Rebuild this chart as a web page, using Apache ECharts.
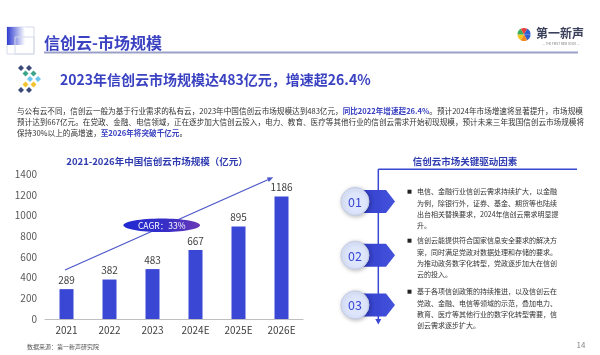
<!DOCTYPE html>
<html>
<head>
<meta charset="utf-8">
<script src="https://cdn.jsdelivr.net/npm/echarts@6/dist/echarts.min.js"></script>
<style>
html,body{margin:0;padding:0;background:#fff;}
#main{width:600px;height:355px;}
</style>
</head>
<body>
<div id="main"></div>
<script>
// ---- data ----
const categories = ['2021', '2022', '2023', '2024E', '2025E', '2026E'];
const marketSize = [289, 382, 483, 667, 895, 1186];
const yTicks = [0, 200, 400, 600, 800, 1000, 1200, 1400];
const pageTitle = '信创云-市场规模';
const headline = '2023年信创云市场规模达483亿元，增速超26.4%';
const paragraphLines = [
  '与公有云不同，信创云一般为基于行业需求的私有云，2023年中国信创云市场规模达到483亿元，{b|同比2022年增速超26.4%}。预计2024年市场增速将显著提升，市场规模',
  '预计达到667亿元。在党政、金融、电信领域，正在逐步加大信创云投入，电力、教育、医疗等其他行业的信创云需求开始初现规模，预计未来三年我国信创云市场规模将',
  '保持30%以上的高增速，{b|至2026年将突破千亿元}。'
];
const chartTitle = '2021-2026年中国信创云市场规模（亿元）';
const cagrText = 'CAGR：33%';
const driverTitle = '信创云市场关键驱动因素';
const driverNums = ['01', '02', '03'];
const driverTexts = [
  ['电信、金融行业信创云需求持续扩大，以金融', '为例，除银行外，证券、基金、期货等也陆续', '出台相关替换要求，2024年信创云需求明显提', '升。'],
  ['信创云能提供符合国家信息安全要求的解决方', '案，同时满足党政对数据处理和存储的要求。', '为推动政务数字化转型，党政逐步加大在信创', '云的投入。'],
  ['基于各项信创政策的持续推进，以及信创云在', '党政、金融、电信等领域的示范，叠加电力、', '教育、医疗等其他行业的数字化转型需要，信', '创云需求逐步扩大。']
];
const sourceText = '数据来源：第一新声研究院';
const pageNum = '14';

// ---- rendering ----
const FONT = '"Noto Sans CJK SC", "Noto Sans", sans-serif';
const BLUE = '#3a47d5';
const chart = echarts.init(document.getElementById('main'), null, {renderer: 'canvas'});

const g = [];
function txt(x, y, text, size, color, opts) {
  g.push(Object.assign({
    type: 'text', z: 10,
    style: Object.assign({
      x: x, y: y, text: text, fill: color,
      fontSize: size, fontFamily: FONT,
      textAlign: 'left', textVerticalAlign: 'middle'
    }, opts || {})
  }));
}

// header icon
g.push({type: 'rect', shape: {x: 7, y: 27, width: 27, height: 27}, style: {fill: 'none', stroke: '#d6d9ea', lineWidth: 1}});
g.push({type: 'rect', shape: {x: 7, y: 27, width: 18, height: 18},
  style: {fill: new echarts.graphic.LinearGradient(0, 0, 1, 0, [{offset: 0, color: '#2e3ccf'}, {offset: 1, color: '#ffffff'}])}});
g.push({type: 'rect', shape: {x: 15, y: 37, width: 19, height: 17}, style: {fill: 'none', stroke: '#d6d9ea', lineWidth: 1}});
txt(44, 43, pageTitle, 16, '#3a42c2', {fontWeight: 'bold'});
g.push({type: 'line', shape: {x1: 44, y1: 52.5, x2: 578, y2: 52.5}, style: {stroke: '#9ba0c8', lineWidth: 2}});

// logo
const logoCols = ['#2d5fd0', '#f08a24', '#f5c518', '#3fae5a', '#e8413a', '#2d5fd0'];
logoCols.forEach(function (c, i) {
  g.push({type: 'sector', shape: {cx: 524, cy: 34.5, r: 6.5, startAngle: Math.PI * 2 * i / 6, endAngle: Math.PI * 2 * (i + 1) / 6}, style: {fill: c}});
});
txt(536, 33.5, '第一新声', 12, '#3a3f5a', {fontWeight: 'bold'});
txt(561, 44, '— THE FIRST NEW VOICE —', 3, '#777', {textAlign: 'center'});

// headline icon (two chevrons of diamonds)
const dia = [[21, 68, '#3b4a7a'], [29, 68, '#3b4a7a'], [25.5, 73.5, '#3aa58a'], [33.5, 73.5, '#3aa58a'],
  [30, 79, '#6cc6ee'], [38, 79, '#6cc6ee'], [25.5, 84.5, '#f3c230'], [33.5, 84.5, '#f3c230'],
  [21, 90, '#3b4a7a'], [29, 90, '#3b4a7a']];
dia.forEach(function (d) {
  g.push({type: 'polygon', shape: {points: [[d[0], d[1] - 3], [d[0] + 3, d[1]], [d[0], d[1] + 3], [d[0] - 3, d[1]]]}, style: {fill: d[2]}});
});
txt(60, 80, headline, 14, '#3a42c2', {fontWeight: 'bold'});

// paragraph
paragraphLines.forEach(function (line, i) {
  txt(17, 111 + i * 11, line, 7.6, '#333', {rich: {b: {fill: '#3a42c2', fontWeight: 'bold', fontSize: 7.6, fontFamily: FONT}}});
});

// chart title
txt(157, 161, chartTitle, 9.5, '#2f3bb0', {fontWeight: 'bold', textAlign: 'center'});

// growth arrow
(function () {
  const x1 = 65, y1 = 270, x2 = 273.3, y2 = 177.3;
  const dx = x2 - x1, dy = y2 - y1, L = Math.sqrt(dx * dx + dy * dy);
  const ux = dx / L, uy = dy / L, px = -uy, py = ux;
  const bx = x2 - 6 * ux, by = y2 - 6 * uy;
  g.push({type: 'line', z: 5, shape: {x1: x1, y1: y1, x2: bx, y2: by}, style: {stroke: '#4b55c9', lineWidth: 1.2}});
  g.push({type: 'polygon', z: 5, shape: {points: [[x2, y2], [bx + 2.4 * px, by + 2.4 * py], [bx - 2.4 * px, by - 2.4 * py]]}, style: {fill: '#4b55c9'}});
})();
g.push({type: 'ellipse', z: 6, shape: {cx: 161.7, cy: 225.3, rx: 38.3, ry: 6.8},
  style: {fill: new echarts.graphic.LinearGradient(0, 0, 1, 0, [{offset: 0, color: '#1f2ad2'}, {offset: 0.6, color: '#3a2fc6'}, {offset: 1, color: '#6c38b6'}])}});
txt(161.7, 225.5, cagrText, 8.5, '#ffffff', {textAlign: 'center'});

// right panel
txt(465, 161, driverTitle, 9.5, '#2f3bb0', {fontWeight: 'bold', textAlign: 'center'});
const circleY = [201.5, 255.3, 305];
const textY = [191.7, 240.7, 291.7];
circleY.forEach(function (cy, i) {
  g.push({type: 'polygon', z: 3, shape: {points: [[355, cy - 11.5], [386, cy - 11.5], [395, cy], [386, cy + 11.5], [355, cy + 11.5]]},
    style: {fill: new echarts.graphic.LinearGradient(0, 0, 1, 0, [{offset: 0, color: '#2f3cc9'}, {offset: 1, color: '#4552dc'}])}});
  g.push({type: 'circle', z: 6, shape: {cx: 355, cy: cy, r: 14},
    style: {fill: '#dde6fc', stroke: '#c3cbe6', lineWidth: 1, shadowBlur: 4, shadowColor: 'rgba(0,0,0,0.25)', shadowOffsetX: 1, shadowOffsetY: 1}});
  txt(355, cy + 0.5, driverNums[i], 12.5, BLUE, {textAlign: 'center'});
  g.push({type: 'rect', shape: {x: 407.5, y: textY[i] - 2, width: 4, height: 4}, style: {fill: '#222'}});
  driverTexts[i].forEach(function (t, j) {
    txt(417, textY[i] + j * 11.2, t, 7, '#333');
  });
});
g.push({type: 'line', z: 4, shape: {x1: 378.3, y1: 169.3, x2: 577, y2: 169.3}, style: {stroke: BLUE, lineWidth: 1.5}});
g.push({type: 'line', z: 4, shape: {x1: 378.3, y1: 169.3, x2: 378.3, y2: 320}, style: {stroke: BLUE, lineWidth: 1.5}});
g.push({type: 'polygon', z: 4, shape: {points: [[375.3, 319], [381.3, 319], [378.3, 324.5]]}, style: {fill: BLUE}});

// footer
txt(27, 347, sourceText, 6, '#555');
txt(581, 345, pageNum, 8, '#888', {textAlign: 'center'});

chart.setOption({
  animation: false,
  grid: {left: 45, right: 297, top: 174.3, bottom: 36, containLabel: false},
  xAxis: {
    type: 'category', data: categories,
    axisLine: {lineStyle: {color: '#bfbfbf', width: 1}},
    axisTick: {show: false},
    axisLabel: {color: '#404040', fontSize: 10, fontFamily: FONT, margin: 6}
  },
  yAxis: {
    type: 'value', min: yTicks[0], max: yTicks[yTicks.length - 1], interval: yTicks[1] - yTicks[0],
    axisLine: {show: false}, axisTick: {show: false}, splitLine: {show: false},
    axisLabel: {color: '#595959', fontSize: 10, fontFamily: FONT, margin: 8, formatter: function (v) { return String(v); }}
  },
  series: [{
    type: 'bar', data: marketSize, barWidth: 14,
    itemStyle: {color: '#3a47d5'},
    label: {show: true, position: 'top', distance: 4, color: '#404040', fontSize: 10, fontFamily: FONT}
  }],
  graphic: g
});
</script>
</body>
</html>
